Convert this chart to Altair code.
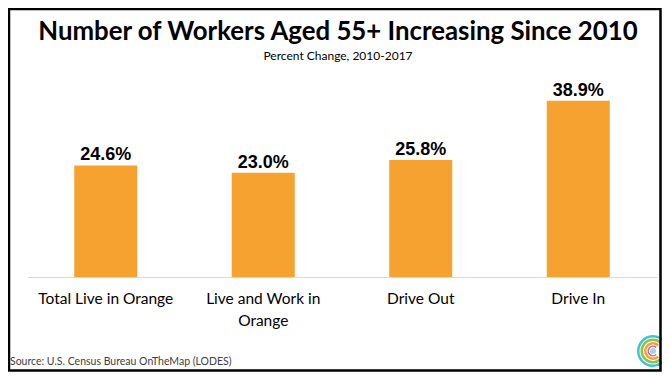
import altair as alt
import pandas as pd

categories = ["Total Live in Orange", "Live and Work in Orange", "Drive Out", "Drive In"]
values = [24.6, 23.0, 25.8, 38.9]
value_labels = ["24.6%", "23.0%", "25.8%", "38.9%"]
title_text = "Number of Workers Aged 55+ Increasing Since 2010"
subtitle_text = "Percent Change, 2010-2017"
source_text = "Source: U.S. Census Bureau OnTheMap (LODES)"

# logo rings: outer radius, inner radius, colour
ring_outer = [16, 12.5, 9, 5.5]
ring_inner = [13.5, 10, 6.5, 4]
ring_colors = ["#3fc1e0", "#8cc63f", "#f4a04a", "#e85a6a"]

W, H = 630, 204
TOTAL_W, TOTAL_H = 654, 364
PAD_T, PAD_L = 65, 19

df = pd.DataFrame({"category": categories, "value": values, "label": value_labels})

base = alt.Chart(df)

x_enc = alt.X(
    "category:N",
    sort=categories,
    scale=alt.Scale(paddingInner=0.6, paddingOuter=0.3),
    axis=alt.Axis(
        title=None,
        labelAngle=0,
        ticks=False,
        domainColor="#d9d9d9",
        domainWidth=1,
        labelFont="Lato",
        labelFontSize=15.5,
        labelColor="#000000",
        labelPadding=14,
        labelLineHeight=22,
        labelLimit=200,
        labelExpr="datum.value == 'Live and Work in Orange' ? ['Live and Work in', 'Orange'] : datum.value",
    ),
)
y_enc = alt.Y("value:Q", scale=alt.Scale(domain=[0, 45]), axis=None)

bars = base.mark_bar(color="#F6A231").encode(x=x_enc, y=y_enc)

texts = base.mark_text(
    font="Liberation Sans", fontWeight="bold", fontSize=18, dy=-5,
    baseline="alphabetic", color="#000000"
).encode(x=x_enc, y=y_enc, text="label:N")

title = alt.Chart(pd.DataFrame({"t": [title_text]})).mark_text(
    align="center", baseline="alphabetic", font="Lato", fontWeight="bold",
    fontSize=25.8, color="#000000"
).encode(x=alt.value(311), y=alt.value(-33), text="t:N")

subtitle = alt.Chart(pd.DataFrame({"t": [subtitle_text]})).mark_text(
    align="center", baseline="alphabetic", font="Lato", fontSize=12, color="#000000"
).encode(x=alt.value(311), y=alt.value(-13), text="t:N")

source = alt.Chart(pd.DataFrame({"t": [source_text]})).mark_text(
    align="left", baseline="alphabetic", font="Lato", fontSize=10.5, color="#404040"
).encode(x=alt.value(-17), y=alt.value(292), text="t:N")

logo_layers = []
for ro, ri, c in zip(ring_outer, ring_inner, ring_colors):
    logo_layers.append(
        alt.Chart(pd.DataFrame({"r": [ro]})).mark_arc(
            radius=ro, radius2=ri, theta=2.4, theta2=7.02, color=c
        ).encode(x=alt.value(626), y=alt.value(278))
    )
logo_layers.append(
    alt.Chart(pd.DataFrame({"r": [3]})).mark_arc(
        radius=3, theta=0, theta2=6.2832, color="#9fd3f0"
    ).encode(x=alt.value(626), y=alt.value(278))
)

frame = alt.Chart(pd.DataFrame({"f": [1]})).mark_rect(
    filled=False, stroke="#000000", strokeWidth=2.5
).encode(
    x=alt.value(-PAD_L + 1), x2=alt.value(TOTAL_W - PAD_L - 1.5),
    y=alt.value(-PAD_T + 1), y2=alt.value(TOTAL_H - PAD_T - 1.5)
)

chart = alt.layer(bars, texts, title, subtitle, source, *logo_layers, frame).properties(
    width=W,
    height=H,
    background="#ffffff",
    autosize=alt.AutoSizeParams(type="none"),
    padding={"left": PAD_L, "top": PAD_T, "right": TOTAL_W - PAD_L - W,
             "bottom": TOTAL_H - PAD_T - H},
).configure_view(strokeWidth=0, stroke="transparent")

chart.save("out.html", embed_options={"renderer": "svg", "actions": False})
